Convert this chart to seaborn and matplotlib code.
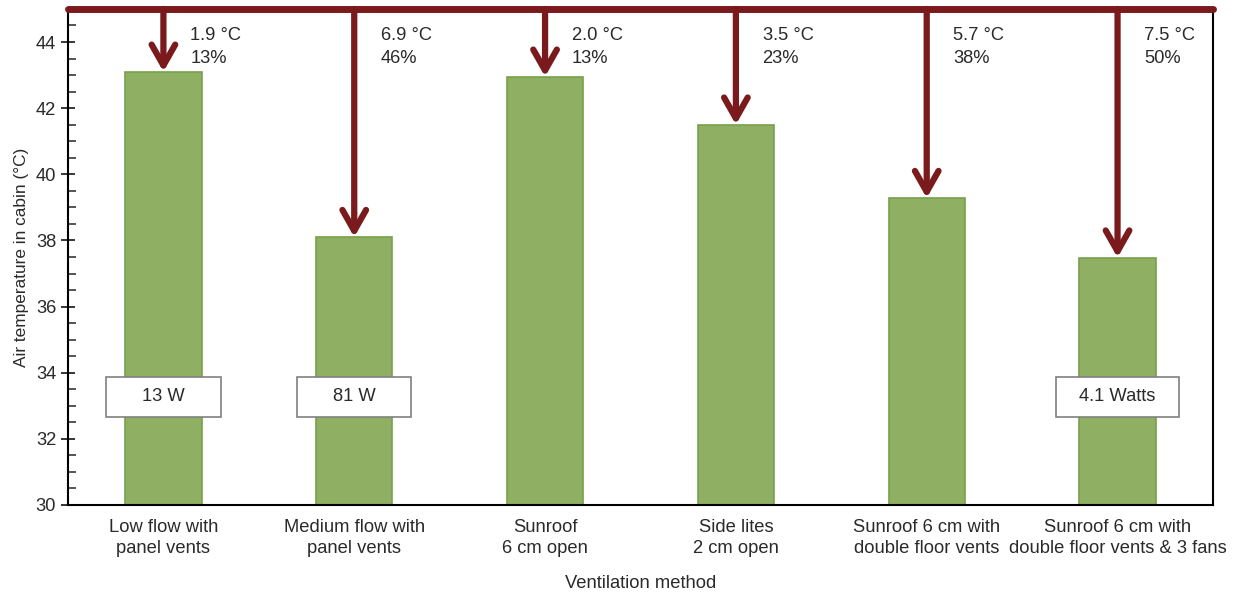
import matplotlib
matplotlib.use("Agg")
import matplotlib.pyplot as plt
import seaborn as sns
import numpy as np
from matplotlib.patches import Rectangle
from matplotlib.ticker import MultipleLocator

categories = ["Low flow with\npanel vents", "Medium flow with\npanel vents", "Sunroof\n6 cm open",
              "Side lites\n2 cm open", "Sunroof 6 cm with\ndouble floor vents",
              "Sunroof 6 cm with\ndouble floor vents & 3 fans"]
temps = [43.1, 38.1, 42.95, 41.5, 39.28, 37.48]
reductions = ["1.9 °C\n13%", "6.9 °C\n46%", "2.0 °C\n13%", "3.5 °C\n23%", "5.7 °C\n38%", "7.5 °C\n50%"]
power_labels = {0: "13 W", 1: "81 W", 5: "4.1 Watts"}

sns.set_style("white")
plt.rcParams['font.family'] = ['Liberation Sans', 'DejaVu Sans']

fig, ax = plt.subplots(figsize=(12.41, 5.96), dpi=100)
fig.subplots_adjust(left=0.0548, right=0.9774, top=0.985, bottom=0.1527)

sns.barplot(x=list(range(len(categories))), y=temps, width=0.4, color="#8fb063",
            edgecolor="#78a04c", linewidth=1.2, saturation=1, ax=ax, native_scale=False)

ymax = 45
ax.set_ylim(30, ymax)
ax.set_xlim(-0.5, len(categories) - 0.5)

txt = "#2a2a2a"
fs = 13.2
red = "#7b1a1c"
ax.axhline(ymax, color=red, lw=5, clip_on=False, zorder=5)
for i, (t, lab) in enumerate(zip(temps, reductions)):
    ax.annotate("", xy=(i, t), xytext=(i, ymax),
                arrowprops=dict(arrowstyle="->,head_length=1.5,head_width=0.85", color=red, lw=4.5,
                                shrinkA=0, shrinkB=0), zorder=6)
    ax.text(i + 0.14, 44.45, lab, ha="left", va="top", fontsize=fs, color=txt, linespacing=1.45)

for i, lab in power_labels.items():
    w = 0.6 if len(lab) < 6 else 0.64
    ax.add_patch(Rectangle((i - w / 2, 32.67), w, 1.2, facecolor="white", edgecolor="#808080", lw=1.2, zorder=4))
    ax.text(i, 33.27, lab, ha="center", va="center", fontsize=fs, color=txt, zorder=5)

ax.set_xticks(range(len(categories)))
ax.set_xticklabels(categories, fontsize=fs, color=txt, linespacing=1.35)
ax.yaxis.set_major_locator(MultipleLocator(2))
ax.yaxis.set_minor_locator(MultipleLocator(0.5))
ax.tick_params(axis="y", which="major", direction="inout", length=10, width=1.3, labelsize=fs, left=True, labelcolor=txt)
ax.tick_params(axis="y", which="minor", direction="in", length=6, width=1.1, left=True)
ax.tick_params(axis="x", length=0, pad=10)

for s in ["left", "bottom", "right"]:
    ax.spines[s].set_color("black")
    ax.spines[s].set_linewidth(1.5)
ax.spines["top"].set_visible(False)

ax.set_ylabel("Air temperature in cabin (°C)", fontsize=12.4, color=txt, labelpad=5)
ax.set_xlabel("Ventilation method", fontsize=fs, color=txt, labelpad=13)

fig.savefig("out.png", dpi=100)
